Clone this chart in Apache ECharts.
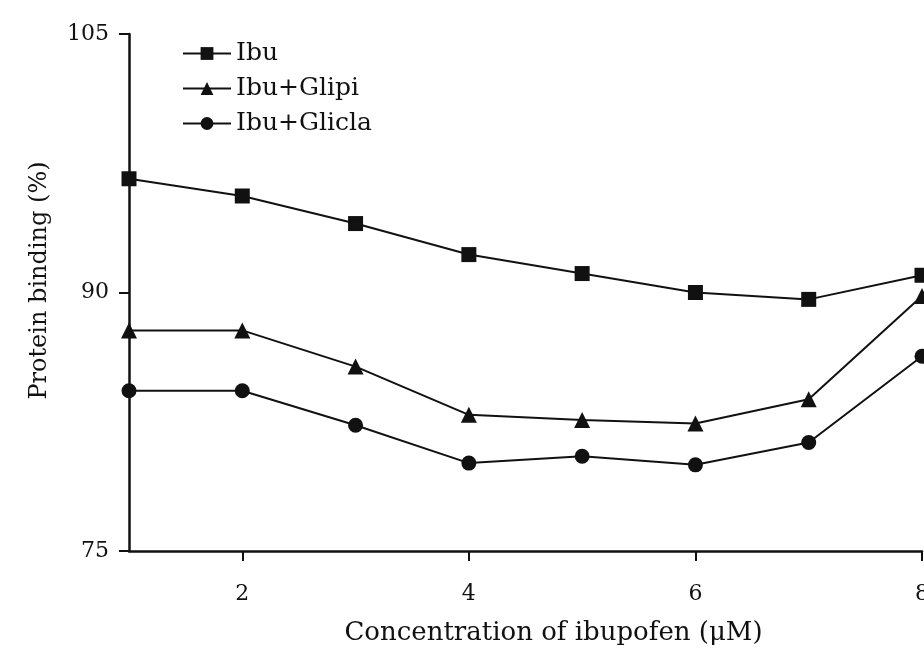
<!DOCTYPE html>
<html>
<head>
<meta charset="utf-8">
<script src="https://cdn.jsdelivr.net/npm/echarts@6/dist/echarts.min.js"></script>
<style>
  html, body { margin: 0; padding: 0; background: #fff; }
  #chart { width: 924px; height: 651px; }
</style>
</head>
<body>
<div id="chart"></div>
<script>
// concentration of ibuprofen (x)
const concentrations = [1, 2, 3, 4, 5, 6, 7, 8];
const xTicks = [2, 4, 6, 8];

// protein binding (%)
const ibu = [96.6, 95.6, 94.0, 92.2, 91.1, 90.0, 89.6, 91.0];
const ibuGlipi = [87.8, 87.8, 85.7, 82.9, 82.6, 82.4, 83.8, 89.8];
const ibuGlicla = [84.3, 84.3, 82.3, 80.1, 80.5, 80.0, 81.3, 86.3];

const seriesNames = ["Ibu", "Ibu+Glipi", "Ibu+Glicla"];

const font = "DejaVu Serif";
const ink = "#111";

function pairs(values) {
  return concentrations.map((c, i) => [c, values[i]]);
}

function lineSeries(name, values, symbol, size) {
  return {
    name: name,
    type: "line",
    data: pairs(values),
    symbol: symbol,
    symbolSize: size,
    clip: false,
    lineStyle: { color: ink, width: 2 },
    itemStyle: { color: ink },
  };
}

const chart = echarts.init(document.getElementById("chart"));
chart.setOption({
  animation: false,
  grid: { left: 129, right: 2, top: 34, bottom: 100, outerBoundsMode: "none" },
  legend: {
    orient: "vertical",
    left: 177,
    top: 36,
    itemWidth: 48,
    itemHeight: 16,
    itemGap: 10,
    textStyle: { fontFamily: font, fontSize: 25, color: ink },
    data: seriesNames,
  },
  xAxis: {
    type: "value",
    min: 1,
    max: 8,
    name: "Concentration of ibupofen (μM)",
    nameLocation: "middle",
    nameGap: 69,
    nameTextStyle: { fontFamily: font, fontSize: 26, color: ink, padding: [0, 0, 0, 56] },
    axisLine: { lineStyle: { color: ink, width: 2.5 } },
    axisTick: { show: true, length: 10, customValues: xTicks, lineStyle: { color: ink, width: 2 } },
    axisLabel: { customValues: xTicks, margin: 32, fontFamily: font, fontSize: 22, color: ink },
    splitLine: { show: false },
  },
  yAxis: {
    type: "value",
    min: 75,
    max: 105,
    interval: 15,
    name: "Protein binding (%)",
    nameLocation: "middle",
    nameGap: 77,
    nameTextStyle: { fontFamily: font, fontSize: 24, color: ink, padding: [0, 0, 0, 24] },
    axisLine: { show: true, lineStyle: { color: ink, width: 2.5 } },
    axisTick: { show: true, length: 10, lineStyle: { color: ink, width: 2 } },
    axisLabel: { margin: 20, fontFamily: font, fontSize: 22, color: ink },
    splitLine: { show: false },
  },
  series: [
    lineSeries(seriesNames[0], ibu, "rect", 15),
    lineSeries(seriesNames[1], ibuGlipi, "triangle", 16),
    lineSeries(seriesNames[2], ibuGlicla, "circle", 15),
  ],
});
</script>
</body>
</html>
